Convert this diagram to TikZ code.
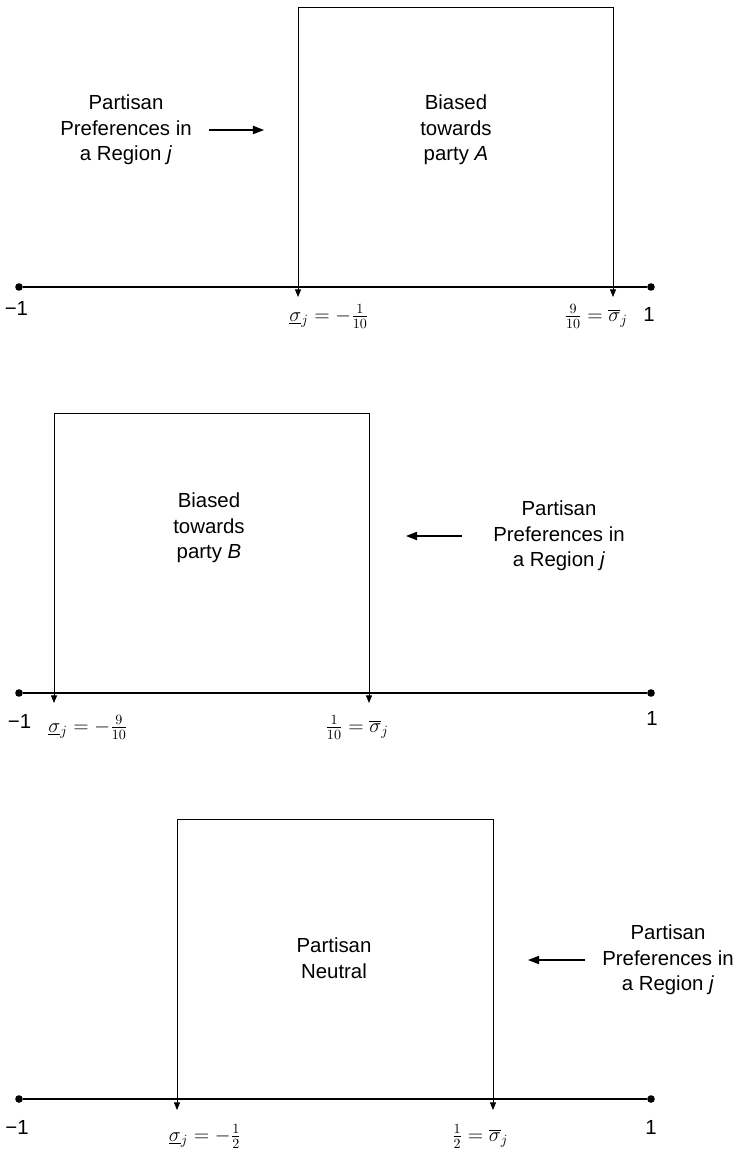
\documentclass[tikz,border=0pt]{standalone}
\usepackage{fontspec}
\setmainfont{Liberation Sans}
\usetikzlibrary{arrows.meta}

\begin{document}
\begin{tikzpicture}[font=\fontsize{14.5}{18.1}\selectfont,
  txt/.style={align=center,inner sep=0pt},
  lbl/.style={inner sep=0pt},
  axisline/.style={line width=1.9pt},
  endpt/.style={circle,fill,inner sep=0pt,minimum size=0.19cm},
  bounds/.style={line width=0.6pt,{Triangle[length=1.9mm,width=1.5mm]}-{Triangle[length=1.9mm,width=1.5mm]}},
  pointer/.style={line width=0.9pt,-{Triangle[length=2.8mm,width=2.1mm]}}]
\useasboundingbox (0,0) rectangle (18.375,-28.725);
% biased towards A
\node[endpt] (a-lo) at (0.475,-7.175) {};
\node[endpt] (a-hi) at (16.275,-7.175) {};
\draw[axisline] (a-lo) -- (a-hi);
\coordinate (a-l) at (7.45,-7.425);
\coordinate (a-tl) at (7.45,-0.175);
\coordinate (a-tr) at (15.325,-0.175);
\coordinate (a-r) at (15.325,-7.425);
\draw[bounds] (a-l) -- (a-tl) -- (a-tr) -- (a-r);
\node[txt] (a-box) at (11.4,-3.25) {Biased\\towards\\party \textit{A}};
\node[txt] (a-pref) at (3.15,-3.25) {Partisan\\Preferences in\\a Region \textit{j}};
\coordinate (a-to) at (6.6,-3.25);
\draw[pointer,shorten <=0.42cm] (a-pref.east) -- (a-to);
\node[lbl] (a-m1) at (0.41,-7.7) {−1};
\node[lbl] (a-sl) at (8.225,-7.9) {$\underline{\sigma}_j=-\frac{1}{10}$};
\node[lbl] (a-su) at (14.9,-7.9) {$\frac{9}{10}=\overline{\sigma}_j$};
\node[lbl] (a-p1) at (16.225,-7.85) {1};
% biased towards B
\node[endpt] (b-lo) at (0.475,-17.325) {};
\node[endpt] (b-hi) at (16.275,-17.325) {};
\draw[axisline] (b-lo) -- (b-hi);
\coordinate (b-l) at (1.35,-17.575);
\coordinate (b-tl) at (1.35,-10.325);
\coordinate (b-tr) at (9.225,-10.325);
\coordinate (b-r) at (9.225,-17.575);
\draw[bounds] (b-l) -- (b-tl) -- (b-tr) -- (b-r);
\node[txt] (b-box) at (5.225,-13.2) {Biased\\towards\\party \textit{B}};
\node[txt] (b-pref) at (13.975,-13.4) {Partisan\\Preferences in\\a Region \textit{j}};
\coordinate (b-to) at (10.15,-13.4);
\draw[pointer,shorten <=0.78cm] (b-pref.west) -- (b-to);
\node[lbl] (b-m1) at (0.49,-18.025) {−1};
\node[lbl] (b-sl) at (2.2,-18.175) {$\underline{\sigma}_j=-\frac{9}{10}$};
\node[lbl] (b-su) at (8.925,-18.175) {$\frac{1}{10}=\overline{\sigma}_j$};
\node[lbl] (b-p1) at (16.3,-17.95) {1};
% neutral
\node[endpt] (c-lo) at (0.475,-27.475) {};
\node[endpt] (c-hi) at (16.275,-27.475) {};
\draw[axisline] (c-lo) -- (c-hi);
\coordinate (c-l) at (4.425,-27.75);
\coordinate (c-tl) at (4.425,-20.475);
\coordinate (c-tr) at (12.325,-20.475);
\coordinate (c-r) at (12.325,-27.75);
\draw[bounds] (c-l) -- (c-tl) -- (c-tr) -- (c-r);
\node[txt] (c-box) at (8.35,-23.96) {Partisan\\Neutral};
\node[txt] (c-pref) at (16.7,-24.0) {Partisan\\Preferences in\\a Region \textit{j}};
\coordinate (c-to) at (13.2,-24.0);
\draw[pointer,shorten <=0.42cm] (c-pref.west) -- (c-to);
\node[lbl] (c-m1) at (0.425,-28.175) {−1};
\node[lbl] (c-sl) at (5.125,-28.4) {$\underline{\sigma}_j=-\frac{1}{2}$};
\node[lbl] (c-su) at (12.0,-28.4) {$\frac{1}{2}=\overline{\sigma}_j$};
\node[lbl] (c-p1) at (16.275,-28.175) {1};
\end{tikzpicture}
\end{document}
